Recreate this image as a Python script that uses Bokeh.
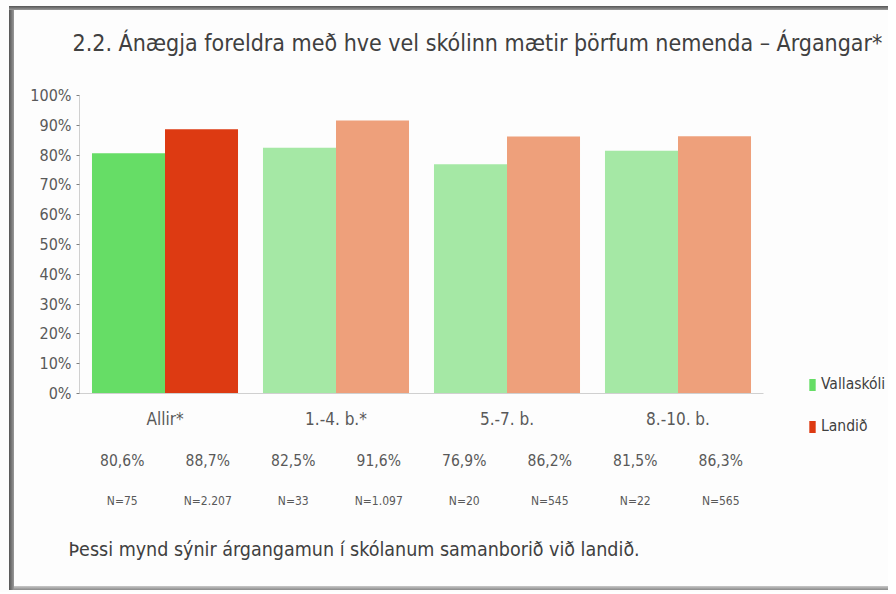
from bokeh.plotting import figure
from bokeh.models import (ColumnDataSource, Legend, LegendItem, FixedTicker,
                          PrintfTickFormatter, LinearAxis, LabelSet, Label, Range1d)
from bokeh.transform import dodge
from bokeh.core.properties import value
from bokeh.embed import file_html
from bokeh.resources import INLINE

# ---- data ----
categories = ["Allir*", "1.-4. b.*", "5.-7. b.", "8.-10. b."]
school_values = [80.6, 82.5, 76.9, 81.5]
national_values = [88.7, 91.6, 86.2, 86.3]
school_n = [75, 33, 20, 22]
national_n = [2207, 1097, 545, 565]
series_names = ["Vallaskóli", "Landið"]
y_ticks = [0, 10, 20, 30, 40, 50, 60, 70, 80, 90, 100]

title_text = "2.2. Ánægja foreldra með hve vel skólinn mætir þörfum nemenda – Árgangar*"
footnote_text = "Þessi mynd sýnir árgangamun í skólanum samanborið við landið."

# ---- styles / layout ----
school_colors = ["#66DD66", "#A5E8A5", "#A5E8A5", "#A5E8A5"]
national_colors = ["#DD3A12", "#EEA07B", "#EEA07B", "#EEA07B"]
FONT = "'DejaVu Sans Condensed', 'DejaVu Sans', sans-serif"
TXT = "#595959"
DARK = "#404040"

W, H = 888, 592
AXIS_X = 79          # pixel column of the value axis
TOP_Y = 95           # pixel row of 100 %
ZERO_Y = 393         # pixel row of 0 %
FRAME_TOP = 78       # top of drawing area (room for the 100 % label)
SLOT = 171           # pixels per category group
PX_PER_UNIT = (ZERO_Y - TOP_Y) / 100.0


def yval(px):
    """data y for a pixel row"""
    return (ZERO_Y - px) / PX_PER_UNIT


def xpos(px):
    """data x for a pixel column"""
    return (px - AXIS_X) / SLOT


def pct(v):
    return ("%.1f" % v).replace(".", ",") + "%"


def nfmt(n):
    return "N=" + "{:,}".format(n).replace(",", ".")


cat_x = [i + 0.5 for i in range(len(categories))]
src = ColumnDataSource(dict(
    x=cat_x,
    school=school_values,
    national=national_values,
    school_color=school_colors,
    national_color=national_colors,
    school_pct=[pct(v) for v in school_values],
    national_pct=[pct(v) for v in national_values],
    school_nl=[nfmt(n) for n in school_n],
    national_nl=[nfmt(n) for n in national_n],
))

p = figure(width=W, height=H,
           x_range=Range1d(xpos(0), xpos(W)),
           y_range=Range1d(yval(H), yval(FRAME_TOP)),
           x_axis_location=None,
           output_backend="svg", toolbar_location=None,
           min_border_left=0, min_border_right=0,
           min_border_top=FRAME_TOP, min_border_bottom=0)
p.background_fill_alpha = 0
p.border_fill_alpha = 0
p.outline_line_color = None
p.grid.visible = False
p.styles = {
    "background": (
        "linear-gradient(#555555, #9a9a9a) 9px 6px / 879px 4px no-repeat, "
        "linear-gradient(90deg, #555555, #9a9a9a) 9px 6px / 5px 584px no-repeat, "
        "linear-gradient(#c8c8c8, #8a8a8a) 9px 586px / 879px 4px no-repeat, "
        "#FDFDFD"
    )
}

p.title.text = title_text
p.title.text_font = FONT
p.title.text_font_size = "23px"
p.title.text_font_style = "normal"
p.title.text_color = DARK
p.title.align = "left"
p.title.offset = 72
p.title.standoff = 46

bar_w = 0.427
r1 = p.vbar(x=dodge("x", -bar_w / 2), top="school", width=bar_w,
            source=src, fill_color="school_color", line_color=None)
r2 = p.vbar(x=dodge("x", bar_w / 2), top="national", width=bar_w,
            source=src, fill_color="national_color", line_color=None)

# value axis at the left edge of the first group
yax = p.yaxis[0]
yax.fixed_location = 0
yax.ticker = FixedTicker(ticks=y_ticks)
yax.formatter = PrintfTickFormatter(format="%d%%")
yax.bounds = (y_ticks[0], y_ticks[-1])
yax.major_label_text_font = FONT
yax.major_label_text_font_size = "16px"
yax.major_label_text_color = TXT
yax.axis_line_color = "#D0D0D0"
yax.major_tick_line_color = "#808080"
yax.major_tick_in = 0
yax.major_tick_out = 3
yax.minor_tick_line_color = None
yax.major_label_standoff = 5

# category axis on the 0 % line
xax = LinearAxis(fixed_location=0,
                 ticker=FixedTicker(ticks=cat_x),
                 major_label_overrides={x: c for x, c in zip(cat_x, categories)},
                 bounds=(0, len(categories)),
                 axis_line_color="#D0D0D0",
                 major_tick_line_color=None, major_tick_in=0, major_tick_out=0,
                 minor_tick_line_color=None, major_label_standoff=15,
                 major_label_text_font=FONT, major_label_text_font_size="17px",
                 major_label_text_color=TXT)
p.add_layout(xax, "below")

# value row and N row
lab_kw = dict(text_font=value(FONT), text_color=TXT, text_align="center",
              text_baseline="middle", source=src)
p.add_layout(LabelSet(x=dodge("x", -0.25), y=yval(460), text="school_pct",
                      text_font_size="15.5px", **lab_kw))
p.add_layout(LabelSet(x=dodge("x", 0.25), y=yval(460), text="national_pct",
                      text_font_size="15.5px", **lab_kw))
p.add_layout(LabelSet(x=dodge("x", -0.25), y=yval(500), text="school_nl",
                      text_font_size="12px", **lab_kw))
p.add_layout(LabelSet(x=dodge("x", 0.25), y=yval(500), text="national_nl",
                      text_font_size="12px", **lab_kw))

p.add_layout(Label(x=xpos(68), y=yval(549), text=footnote_text, text_font=FONT,
                   text_font_size="19.5px", text_color=DARK,
                   text_align="left", text_baseline="middle"))

legend = Legend(items=[LegendItem(label=series_names[0], renderers=[r1], index=0),
                       LegendItem(label=series_names[1], renderers=[r2], index=0)],
                location=(808, 157), orientation="vertical",
                glyph_width=8, glyph_height=15, label_standoff=5, spacing=24,
                padding=0, margin=0, border_line_color=None, background_fill_alpha=0,
                label_text_font=FONT, label_text_font_size="15.5px", label_text_color=DARK)
p.add_layout(legend)

open("out.html", "w").write(file_html(p, INLINE))
